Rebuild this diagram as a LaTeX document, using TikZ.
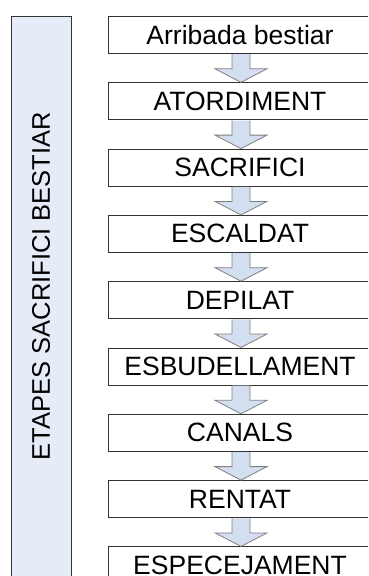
\documentclass[tikz,border=0pt]{standalone}
\usepackage{fontspec}
\setmainfont{Liberation Sans}
\usetikzlibrary{calc}
\definecolor{sidefill}{HTML}{E6ECF7}
\definecolor{arrowfill}{HTML}{D3DEF0}
\definecolor{arrowline}{HTML}{7F7F7F}
\begin{document}
\begin{tikzpicture}[x=1pt,y=-1pt,
  stepbox/.style={draw=black!80, line width=0.8pt, fill=white, minimum width=264pt, minimum height=37pt, inner sep=0pt, font=\fontsize{26.5}{26.5}\selectfont, anchor=north},
  flowarrow/.style={draw=arrowline, line width=0.8pt, fill=arrowfill, line join=miter},
  sidebox/.style={draw=black!80, line width=0.8pt, fill=sidefill, minimum width=60pt, minimum height=580pt, anchor=north west, inner sep=0pt},
  sidetext/.style={rotate=90, font=\fontsize{25.5}{25.5}\selectfont, inner sep=0pt}
]
\useasboundingbox (0,0) rectangle (368,576);
\clip (0,0) rectangle (368,576);
\node[sidebox] (side) at (11,16) {};
\node[sidetext] (sidelabel) at (41,286) {ETAPES SACRIFICI BESTIAR};
\foreach \t [count=\i] in {Arribada bestiar,ATORDIMENT,SACRIFICI,ESCALDAT,DEPILAT,ESBUDELLAMENT,CANALS,RENTAT,ESPECEJAMENT}{
  \node[stepbox] (b\i) at (240,{16+66.3*(\i-1)}) {\t};
}
\foreach \i [evaluate=\i as \j using int(\i+1)] in {1,...,8}{
  \draw[flowarrow] ($(b\i.south)+(-8,0.4)$) -- ($(b\i.south)+(-8,15)$) -- ($(b\i.south)+(-25,15)$) -- ($(b\j.north)+(1,0)$) -- ($(b\i.south)+(27,15)$) -- ($(b\i.south)+(10,15)$) -- ($(b\i.south)+(10,0.4)$);
}
\end{tikzpicture}
\end{document}
